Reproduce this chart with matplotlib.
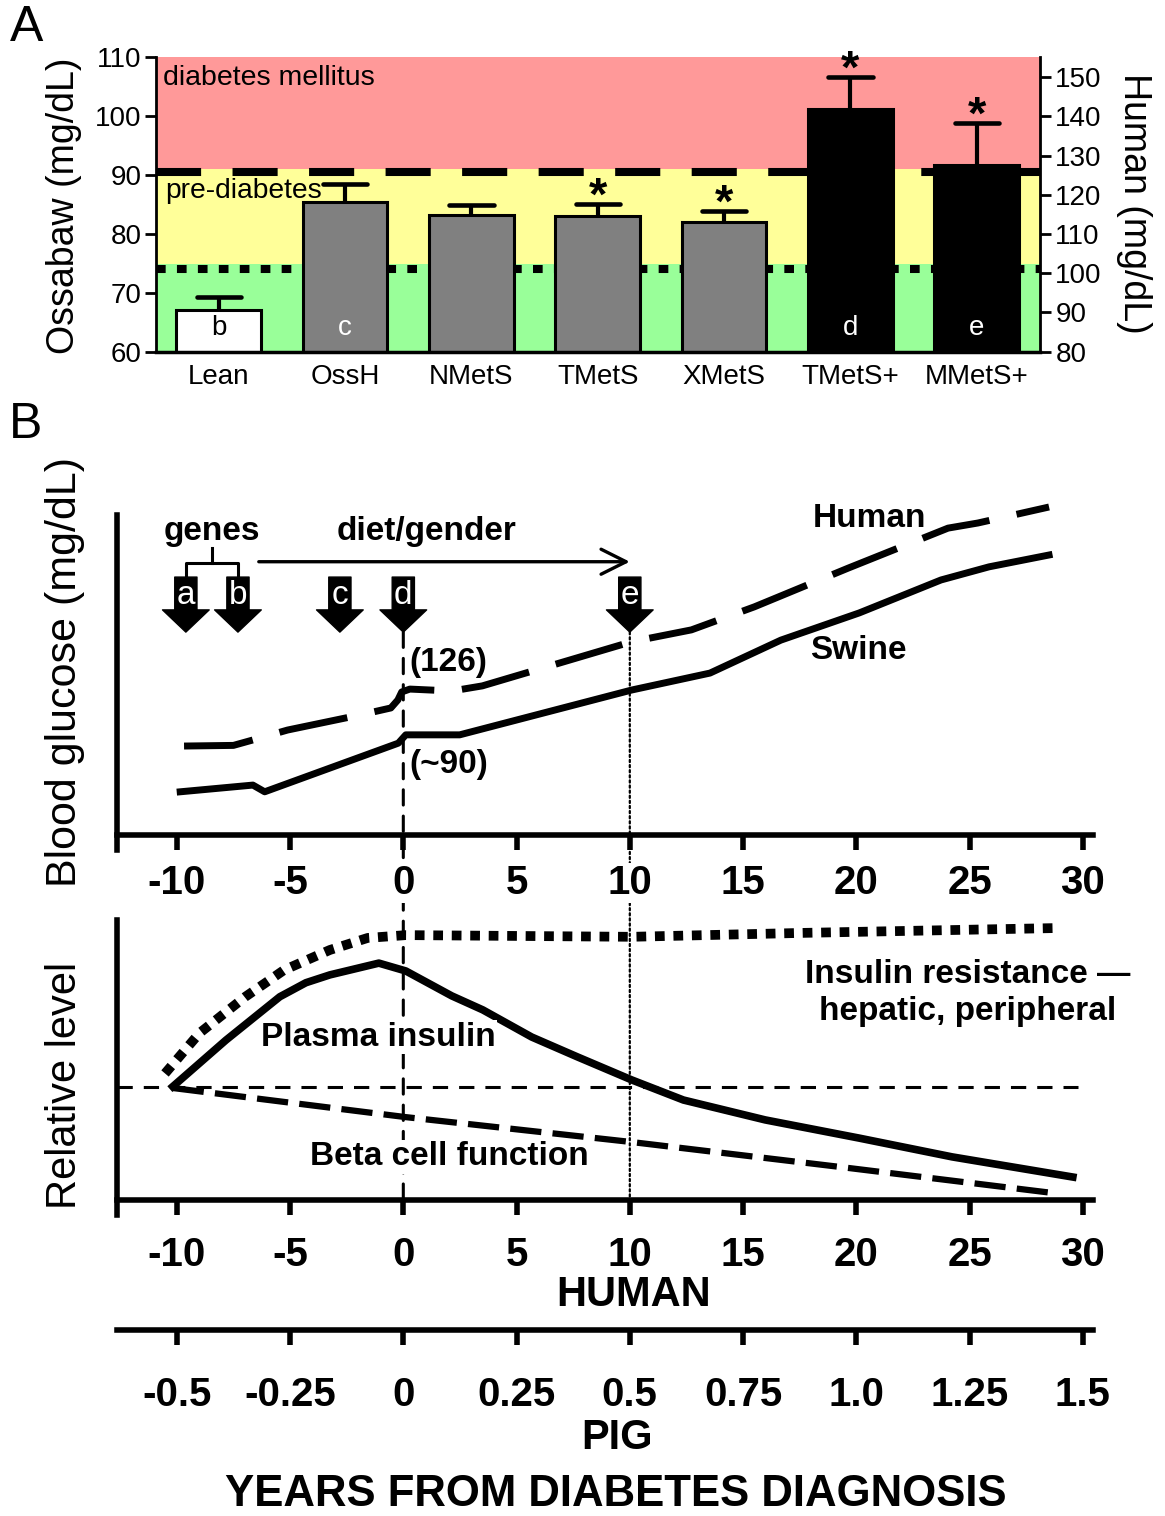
import matplotlib

matplotlib.use("Agg")

import matplotlib.pyplot as plt
from matplotlib.patches import ConnectionPatch
import numpy as np

plt.rcParams["font.family"] = ["Liberation Sans", "DejaVu Sans"]
plt.rcParams["axes.unicode_minus"] = False

# ---- panel A: fasting glucose by group (Ossabaw mg/dL) ----
groups = ["Lean", "OssH", "NMetS", "TMetS", "XMetS", "TMetS+", "MMetS+"]
oss_mean = [67.1, 85.3, 83.2, 83.0, 82.0, 101.1, 91.6]
oss_sem = [2.1, 3.1, 1.7, 2.0, 1.9, 5.4, 7.2]
bar_letters = ["b", "c", "", "", "", "d", "e"]
starred = [False, False, False, True, True, True, True]
bar_fill = ["white", "#808080", "#808080", "#808080", "#808080", "black", "black"]
letter_color = ["black", "white", "white", "white", "white", "white", "white"]
dm_cut = 91.0      # diabetes mellitus zone (Ossabaw scale)
pre_cut = 74.8     # pre-diabetes zone
oss_ticks = [60, 70, 80, 90, 100, 110]
human_right_ticks = [80, 90, 100, 110, 120, 130, 140, 150]

# ---- panel B: schematic time course (years from diagnosis, human scale) ----
swine_x = [-9.85, -6.64, -6.12, -0.22, 0.11, 2.49, 10.08, 13.54, 16.67, 20.13, 23.74, 25.86, 28.51]
swine_y = [13.5, 15.6, 13.5, 28.7, 31.3, 31.3, 45.3, 50.6, 60.9, 69.4, 79.7, 83.8, 87.5]
human_x = [-9.68, -7.5, -6.64, -5.11, -1.92, -0.55, -0.24, -0.07, 0.29, 2.14, 3.49, 10.08, 12.72,
           15.5, 19.64, 24.05, 25.37, 28.51]
human_y = [27.8, 28.0, 29.7, 32.8, 37.5, 39.7, 42.2, 44.7, 45.6, 45.0, 46.6, 60.4, 64.1,
           71.3, 83.4, 95.9, 97.5, 102.5]

insulin_x = [-10.18, -7.83, -5.45, -4.3, -3.24, -1.08, 0.11, 2.14, 3.51, 5.67, 7.69, 10.08,
             12.37, 15.98, 20.13, 24.23, 29.56]
insulin_y = [40.5, 57.1, 72.6, 77.6, 80.4, 84.6, 81.8, 72.9, 67.9, 58.2, 51.1, 42.9,
             35.7, 28.6, 22.1, 15.4, 8.2]
resist_x = [-10.52, -9.0, -6.99, -5.27, -3.24, -1.57, 0.11, 10.08, 17.66, 28.68]
resist_y = [45.2, 59.6, 72.5, 82.1, 89.3, 93.6, 94.6, 94.0, 95.4, 97.1]
beta_x = [-10.18, 0.11, 10.08, 19.29, 28.68]
beta_y = [40.0, 29.6, 20.7, 11.8, 2.5]
baseline_level = 40.4

event_x = [-9.6, -7.3, -2.8, 0.0, 10.0]
event_labels = ["a", "b", "c", "d", "e"]

human_ticks = [-10, -5, 0, 5, 10, 15, 20, 25, 30]
pig_ticks = [-0.5, -0.25, 0, 0.25, 0.5, 0.75, 1.0, 1.25, 1.5]
pig_labels = ["-0.5", "-0.25", "0", "0.25", "0.5", "0.75", "1.0", "1.25", "1.5"]

W, H = 1165, 1516


def fx(px):
    return px / W


def fy(py):
    return 1 - py / H


fig = plt.figure(figsize=(W / 100, H / 100), dpi=100)
fig.patch.set_facecolor("white")

# ================= panel A =================
axA = fig.add_axes([fx(155.5), fy(351.7), (1040 - 155.5) / W, (351.7 - 56.7) / H])
xpos = np.arange(len(groups))
axA.set_xlim(-0.5, 6.5)
axA.set_ylim(60, 110)
axA.axhspan(60, pre_cut, color="#99ff99", lw=0, zorder=0)
axA.axhspan(pre_cut, dm_cut, color="#ffff99", lw=0, zorder=0)
axA.axhspan(dm_cut, 110, color="#ff9999", lw=0, zorder=0)
axA.axhline(dm_cut - 0.6, color="black", lw=5.8, dashes=(5.6, 3.9), zorder=1)
axA.axhline(pre_cut - 0.8, color="black", lw=5.8, dashes=(1.2, 1.4), zorder=1)

axA.bar(xpos, oss_mean, width=0.67, color=bar_fill, edgecolor="black", lw=2.2, zorder=2)
# upper-only error bars
tops = np.array(oss_mean) + np.array(oss_sem)
axA.vlines(xpos, oss_mean, tops, color="black", lw=3, zorder=3)
axA.hlines(tops, xpos - 0.175, xpos + 0.175, color="black", lw=3.3, capstyle="round", zorder=3)
for i in range(len(groups)):
    if bar_letters[i]:
        axA.text(xpos[i], 64, bar_letters[i], color=letter_color[i], fontsize=20,
                 ha="center", va="center", zorder=4)
    if starred[i]:
        axA.annotate("*", xy=(xpos[i], tops[i]), xytext=(0, -4),
                     textcoords="offset points", ha="center", va="baseline",
                     fontsize=34, fontweight="bold", zorder=4)

axA.text(-0.44, 106.4, "diabetes mellitus", fontsize=20.5, ha="left", va="center")
axA.text(-0.425, 87.2, "pre-diabetes", fontsize=20.3, ha="left", va="center")

axA.set_xticks(xpos, groups, fontsize=20)
axA.tick_params(axis="x", length=0, pad=9)
axA.set_yticks(oss_ticks, [str(t) for t in oss_ticks], fontsize=20)
axA.tick_params(axis="y", length=8, width=2, pad=2)
axA.spines["top"].set_visible(False)
axA.spines["right"].set_visible(False)
axA.spines["left"].set_linewidth(2)
axA.spines["bottom"].set_linewidth(2.5)

axA2 = axA.twinx()
axA2.set_ylim(80, 80 + 1.505 * 50)
axA2.set_yticks(human_right_ticks, [str(t) for t in human_right_ticks], fontsize=20)
axA2.tick_params(axis="y", length=8, width=2, pad=3)
for side in ["top", "left", "bottom"]:
    axA2.spines[side].set_visible(False)
axA2.spines["right"].set_linewidth(2)

fig.text(fx(64), fy(206), "Ossabaw (mg/dL)", rotation=90, fontsize=27, ha="center", va="center")
fig.text(fx(1134), fy(203), "Human (mg/dL)", rotation=270, fontsize=27, ha="center", va="center")
fig.text(fx(27), fy(28), "A", fontsize=36, ha="center", va="center")
fig.text(fx(26), fy(425), "B", fontsize=36, ha="center", va="center")

# ================= panel B, glucose =================
x_lo, x_hi = -12.64, 30.45
axT = fig.add_axes([fx(117), fy(835), (1093 - 117) / W, (835 - 499) / H])
axT.set_xlim(x_lo, x_hi)
axT.set_ylim(0, 105)
axT.patch.set_visible(False)
axT.spines["top"].set_visible(False)
axT.spines["right"].set_visible(False)
axT.spines["left"].set_bounds(-4.7, 100)
axT.spines["left"].set_linewidth(4)
axT.spines["bottom"].set_linewidth(4)
axT.set_yticks([])
axT.set_xticks(human_ticks, [str(t) for t in human_ticks], fontsize=29, fontweight="bold")
axT.tick_params(axis="x", length=11, width=4, pad=10)

axT.plot(swine_x, swine_y, color="black", lw=5, solid_joinstyle="round", zorder=3)
axT.plot(human_x, human_y, color="black", lw=5, dashes=(10, 4), clip_on=False,
         dash_joinstyle="round", zorder=3)

# event arrows a-e
for xe, lab in zip(event_x, event_labels):
    axT.annotate("", xy=(xe, 63.4), xytext=(xe, 80.6),
                 arrowprops=dict(arrowstyle="simple,head_length=1.0,head_width=2.1,tail_width=1.0",
                                 fc="black", ec="black", shrinkA=0, shrinkB=0, mutation_scale=16))
    axT.text(xe, 74.8, lab, color="white", fontsize=24, ha="center", va="center")

# genes brace and diet/gender arrow
axT.plot([event_x[0], event_x[0], event_x[1], event_x[1]], [81.3, 85, 85, 81.3],
         color="black", lw=2.2, solid_joinstyle="round")
axT.plot([np.mean(event_x[:2])] * 2, [85, 89.7], color="black", lw=2.2)
axT.annotate("", xy=(event_x[4], 85.4), xytext=(-6.38, 85.4),
             arrowprops=dict(arrowstyle="->,head_length=0.6,head_width=0.3", lw=2.4,
                             color="black", shrinkA=0, shrinkB=0, mutation_scale=30))
bold = dict(fontsize=24, fontweight="bold")
axT.text(-8.45, 94.7, "genes", ha="center", va="center", **bold)
axT.text(1.04, 94.7, "diet/gender", ha="center", va="center", **bold)
axT.text(0.25, 53.8, "(126)", ha="left", va="center", **bold)
axT.text(0.25, 21.9, "(~90)", ha="left", va="center", **bold)
axT.text(20.6, 99.0, "Human", ha="center", va="center", **bold)
axT.text(20.1, 57.8, "Swine", ha="center", va="center", **bold)

# ================= panel B, relative levels =================
axL = fig.add_axes([fx(117), fy(1200), (1093 - 117) / W, 280 / H])
axL.set_xlim(x_lo, x_hi)
axL.set_ylim(0, 100)
axL.patch.set_visible(False)
axL.spines["top"].set_visible(False)
axL.spines["right"].set_visible(False)
axL.spines["left"].set_bounds(-5.4, 100)
axL.spines["left"].set_linewidth(4)
axL.spines["bottom"].set_linewidth(4)
axL.set_yticks([])
axL.set_xticks(human_ticks, [str(t) for t in human_ticks], fontsize=29, fontweight="bold")
axL.tick_params(axis="x", length=11, width=4, pad=15)

axL.plot([x_lo, 29.8], [baseline_level, baseline_level], color="black", lw=2.2,
         dashes=(5, 3.6), zorder=2)
axL.plot(resist_x, resist_y, color="black", lw=7, dashes=(1, 0.9), zorder=3)
axL.plot(insulin_x, insulin_y, color="black", lw=5.5, solid_joinstyle="round", zorder=3)
axL.plot(beta_x, beta_y, color="black", lw=4.5, dashes=(5, 1.8), zorder=3)

halo = dict(facecolor="white", edgecolor="none", pad=1)
axL.text(-1.12, 58.2, "Plasma insulin", ha="center", va="center", bbox=halo, **bold)
axL.text(2.05, 15.4, "Beta cell function", ha="center", va="center", bbox=halo, **bold)
axL.text(24.9, 73.9, "Insulin resistance \u2014\nhepatic, peripheral", ha="center",
         va="center", linespacing=1.25, **bold)

for ax in (axT, axL):
    for t in ax.get_xticklabels():
        t.set_bbox(dict(facecolor="white", edgecolor="none", pad=1))

# pig time axis (human years / 20)
axP = fig.add_axes([fx(117), fy(1330), (1093 - 117) / W, 0.001])
axP.set_xlim(x_lo / 20, x_hi / 20)
axP.patch.set_visible(False)
for side in ["top", "left", "right"]:
    axP.spines[side].set_visible(False)
axP.spines["bottom"].set_linewidth(4)
axP.set_yticks([])
axP.set_xticks(pig_ticks, pig_labels, fontsize=29, fontweight="bold")
axP.tick_params(axis="x", length=11, width=4, pad=22)

# diagnosis (0) and year-10 guide lines running through both panels
for xe, ls, lw in [(0.0, (0, (5, 3.6)), 2.2), (10.0, (0, (1, 1.3)), 1.6)]:
    con = ConnectionPatch(xyA=(xe, 63.4), coordsA=axT.transData, xyB=(xe, -4),
                          coordsB=axL.transData, color="black", lw=lw, linestyle=ls,
                          zorder=-1)
    fig.add_artist(con)

fig.text(fx(65), fy(672), "Blood glucose (mg/dL)", rotation=90, fontsize=31,
         ha="center", va="center")
fig.text(fx(65), fy(1085), "Relative level", rotation=90, fontsize=30,
         ha="center", va="center")
fig.text(fx(634), fy(1295), "HUMAN", fontsize=30, fontweight="bold", ha="center", va="center")
fig.text(fx(617), fy(1438), "PIG", fontsize=30, fontweight="bold", ha="center", va="center")
fig.text(fx(616), fy(1494), "YEARS FROM DIABETES DIAGNOSIS", fontsize=31.5,
         fontweight="bold", ha="center", va="center")

fig.savefig("out.png", dpi=100, facecolor="white")
